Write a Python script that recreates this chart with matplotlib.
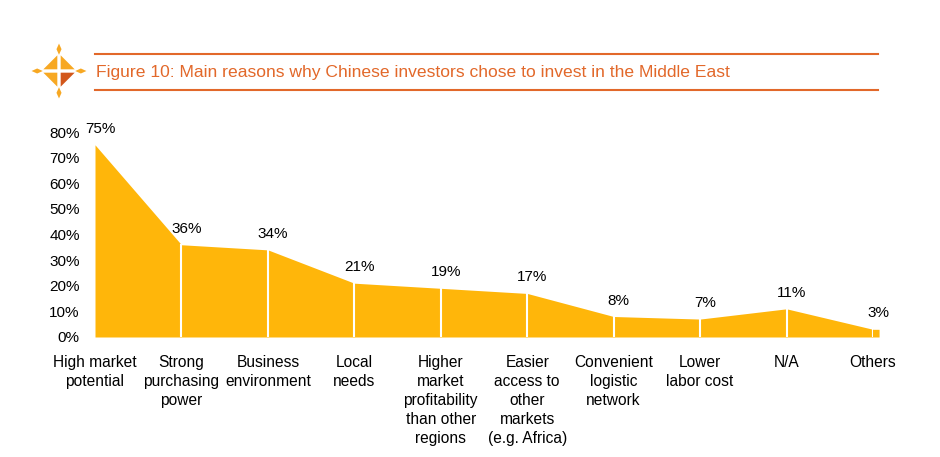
import matplotlib.pyplot as plt
from matplotlib.patches import Polygon
import numpy as np

plt.rcParams['font.family'] = ['Liberation Sans', 'DejaVu Sans']

categories = ['High market\npotential', 'Strong\npurchasing\npower', 'Business\nenvironment',
              'Local\nneeds', 'Higher\nmarket\nprofitability\nthan other\nregions',
              'Easier\naccess to\nother\nmarkets\n(e.g. Africa)', 'Convenient\nlogistic\nnetwork',
              'Lower\nlabor cost', 'N/A', 'Others']
values = [75, 36, 34, 21, 19, 17, 8, 7, 11, 3]
yticks = [0, 10, 20, 30, 40, 50, 60, 70, 80]
title = 'Figure 10: Main reasons why Chinese investors chose to invest in the Middle East'

fill_color = '#FFB60A'
title_color = '#E2682A'

fig = plt.figure(figsize=(9.4, 4.57), dpi=100)
ax = fig.add_axes([95/940, (457-337)/457, (873-95)/940, (337-132)/457])

x = np.arange(len(values))
v = np.array(values) / 100
# area plus a tiny tail after the last point, like the original
xs = np.append(x, x[-1] + 0.07)
vs = np.append(v, v[-1])
ax.fill_between(xs, 0, vs, color=fill_color, linewidth=0, clip_on=False)
for xi, vi in zip(x[1:], v[1:]):
    ax.plot([xi, xi], [0, vi], color='white', lw=1.5)

for xi, vi, val in zip(x, v, values):
    ax.text(xi + 0.06, vi + 0.035, f'{val}%', ha='center', va='bottom', fontsize=11)

ax.set_xlim(0, len(values) - 1)
ax.set_ylim(0, 0.8)
ax.set_yticks([t / 100 for t in yticks])
ax.set_yticklabels([f'{t}%' for t in yticks], fontsize=11)
ax.set_xticks(x)
ax.set_xticklabels(categories, fontsize=11.2, linespacing=1.33)
ax.tick_params(length=0, axis='y', pad=11)
ax.tick_params(length=0, axis='x', pad=13)
for s in ax.spines.values():
    s.set_visible(False)

# title block
fig.add_artist(plt.Line2D([95/940, 878/940], [1 - 54/457, 1 - 54/457], color=title_color, lw=1.5))
fig.add_artist(plt.Line2D([95/940, 878/940], [1 - 90/457, 1 - 90/457], color=title_color, lw=1.5))
fig.text(96/940, 1 - 73/457, title, color=title_color, fontsize=12.6, va='center', ha='left')

# logo: four-pointed star
lax = fig.add_axes([31/940, 1 - 99/457, 56/940, 56/457])
lax.set_xlim(-1, 1)
lax.set_ylim(-1, 1)
lax.axis('off')
petal = '#F7A823'
for sx, sy, col in [(-1, 1, petal), (1, 1, petal), (-1, -1, petal), (1, -1, '#D2571B')]:
    pts = [(0.06 * sx, 0.06 * sy), (0.06 * sx, 0.56 * sy), (0.56 * sx, 0.06 * sy)]
    lax.add_patch(Polygon(pts, closed=True, color=col, lw=0))
for dx, dy in [(0, 1), (0, -1), (1, 0), (-1, 0)]:
    c = np.array([0.78 * dx, 0.78 * dy])
    a = np.array([0.2 * dx, 0.2 * dy])
    b = np.array([0.09 * dy, 0.09 * dx])
    lax.add_patch(Polygon([c + a, c + b, c - a, c - b], closed=True, color=petal, lw=0))

fig.savefig('out.png', dpi=100)
